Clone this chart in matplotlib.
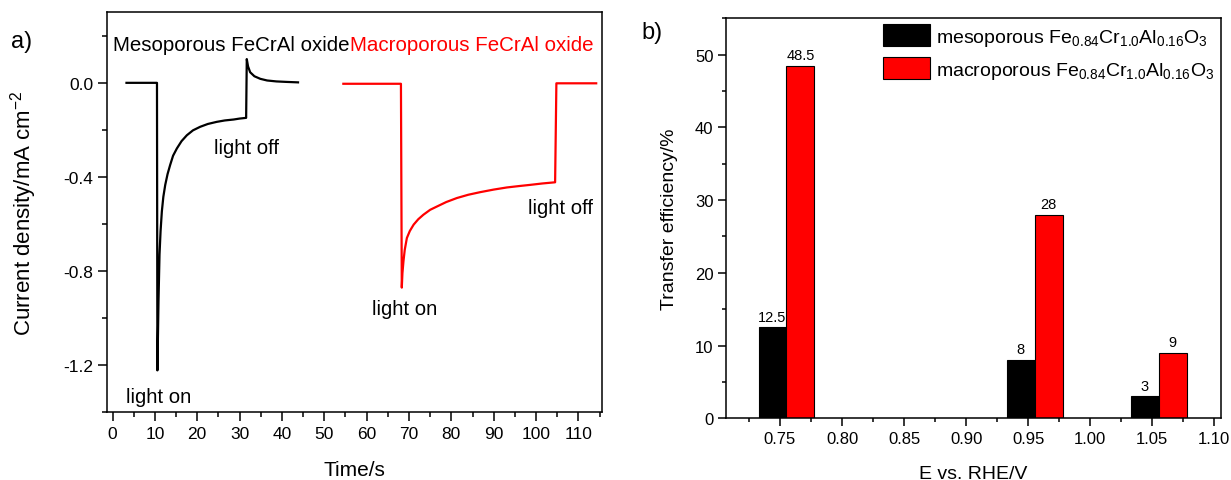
import matplotlib
matplotlib.use('Agg')
import matplotlib.pyplot as plt
from matplotlib.ticker import MultipleLocator, FormatStrFormatter
import numpy as np

plt.rcParams['font.family'] = ['Liberation Sans', 'DejaVu Sans']
plt.rcParams['mathtext.fontset'] = 'custom'
plt.rcParams['mathtext.rm'] = 'Liberation Sans'
plt.rcParams['mathtext.it'] = 'Liberation Sans:italic'
plt.rcParams['mathtext.default'] = 'regular'

# panel a) transient photocurrent
t_meso = [3.3, 10.5, 10.6, 10.86, 11.1, 11.35, 11.65, 12.0, 12.45, 13.0, 13.6,
          14.3, 15.2, 16.3, 17.55, 19.0, 20.7, 22.5, 24.6, 26.5, 28.6, 30.0,
          31.55, 31.7, 32.0, 32.5, 33.5, 34.9, 36.5, 38.7, 41.0, 43.8]
j_meso = [0.0, 0.0, -1.223, -0.926, -0.730, -0.630, -0.547, -0.485, -0.434,
          -0.388, -0.350, -0.310, -0.279, -0.248, -0.223, -0.202, -0.187,
          -0.175, -0.166, -0.160, -0.156, -0.152, -0.149, 0.101, 0.070, 0.045,
          0.028, 0.017, 0.010, 0.006, 0.004, 0.002]

t_macro = [54.5, 68.1, 68.3, 68.45, 68.7, 69.0, 69.5, 70.2, 71.1, 72.2, 73.4,
           75.0, 76.6, 78.8, 81.3, 84.0, 86.8, 90.0, 93.1, 96.0, 98.6, 101.5,
           104.5, 104.8, 114.2]
j_macro = [-0.004, -0.004, -0.871, -0.810, -0.758, -0.710, -0.660, -0.630,
           -0.603, -0.580, -0.561, -0.540, -0.526, -0.507, -0.490, -0.476,
           -0.465, -0.454, -0.445, -0.439, -0.434, -0.428, -0.423, -0.002, -0.002]

# panel b) transfer efficiency
potential = [0.75, 0.95, 1.05]
eff_meso = [12.5, 8, 3]
eff_macro = [48.5, 28, 9]
meso_label = 'mesoporous Fe$_{0.84}$Cr$_{1.0}$Al$_{0.16}$O$_3$'
macro_label = 'macroporous Fe$_{0.84}$Cr$_{1.0}$Al$_{0.16}$O$_3$'

fig = plt.figure(figsize=(12.31, 4.81), dpi=100)
W, H = 1231, 481

def add_ax(l, r, t, b):
    return fig.add_axes([l / W, 1 - b / H, (r - l) / W, (b - t) / H])

# ---- a)
ax1 = add_ax(107, 601.7, 13.3, 413)
ax1.plot(t_meso, j_meso, color='black', lw=1.6)
ax1.plot(t_macro, j_macro, color='red', lw=1.6)
ax1.set_xlim(-1.3, 115.5)
ax1.set_ylim(-1.4, 0.3)
ax1.xaxis.set_major_locator(MultipleLocator(10))
ax1.xaxis.set_minor_locator(MultipleLocator(5))
ax1.yaxis.set_major_locator(MultipleLocator(0.4))
ax1.yaxis.set_minor_locator(MultipleLocator(0.2))
ax1.yaxis.set_major_formatter(FormatStrFormatter('%.1f'))
ax1.tick_params(which='major', direction='out', length=6.5, width=1.1, labelsize=12.5)
ax1.tick_params(which='minor', direction='out', length=3.5, width=1.1)
for s in ax1.spines.values():
    s.set_linewidth(1.1)
ax1.set_xlabel('Time/s', fontsize=15, labelpad=14)
ax1.set_ylabel('Current density/mA cm$^{-2}$', fontsize=16, labelpad=17)

ax1.text(55.9, 0.141, 'Mesoporous FeCrAl oxide', ha='right', va='baseline',
         fontsize=14.8, color='black')
ax1.text(56.0, 0.141, 'Macroporous FeCrAl oxide', ha='left', va='baseline',
         fontsize=14.8, color='red')
ax1.text(31.7, -0.300, 'light off', ha='center', va='baseline', fontsize=14.6)
ax1.text(10.8, -1.357, 'light on', ha='center', va='baseline', fontsize=14.6)
ax1.text(69.1, -0.984, 'light on', ha='center', va='baseline', fontsize=14.6)
ax1.text(105.7, -0.554, 'light off', ha='center', va='baseline', fontsize=14.6)
fig.text(22 / W, 1 - 42 / H, 'a)', fontsize=17, ha='center', va='center')

# ---- b)
ax2 = add_ax(726, 1221, 19.3, 419.3)
width = 0.0225
x = np.array(potential)
b1 = ax2.bar(x - 0.006, eff_meso, width, color='black', edgecolor='black',
             linewidth=0.8, label=meso_label)
b2 = ax2.bar(x + 0.0165, eff_macro, width, color='red', edgecolor='black',
             linewidth=0.8, label=macro_label)
for bars, vals in ((b1, eff_meso), (b2, eff_macro)):
    for r, v in zip(bars, vals):
        ax2.text(r.get_x() + r.get_width() / 2, v + 0.5, f'{v:g}',
                 ha='center', va='bottom', fontsize=10.5)
ax2.set_xlim(0.7065, 1.1054)
ax2.set_ylim(0, 55)
ax2.xaxis.set_major_locator(MultipleLocator(0.05))
ax2.xaxis.set_minor_locator(MultipleLocator(0.025))
ax2.yaxis.set_major_locator(MultipleLocator(10))
ax2.yaxis.set_minor_locator(MultipleLocator(5))
ax2.xaxis.set_major_formatter(FormatStrFormatter('%.2f'))
ax2.tick_params(which='major', direction='out', length=5.5, width=1.1, labelsize=12)
ax2.tick_params(which='minor', direction='out', length=3, width=1.1)
for s in ax2.spines.values():
    s.set_linewidth(1.1)
ax2.set_xlabel('E vs. RHE/V', fontsize=14, labelpad=14)
ax2.set_ylabel('Transfer efficiency/%', fontsize=14, labelpad=12)
ax2.legend(loc='upper left', bbox_to_anchor=((877 - 726) / 495, 1.0),
           frameon=False, fontsize=14, handlelength=2.4, handleheight=1.35,
           handletextpad=0.35, labelspacing=0.5, borderpad=0.3, borderaxespad=0)
fig.text(652 / W, 1 - 33 / H, 'b)', fontsize=17, ha='center', va='center')

fig.savefig('out.png', dpi=100)
